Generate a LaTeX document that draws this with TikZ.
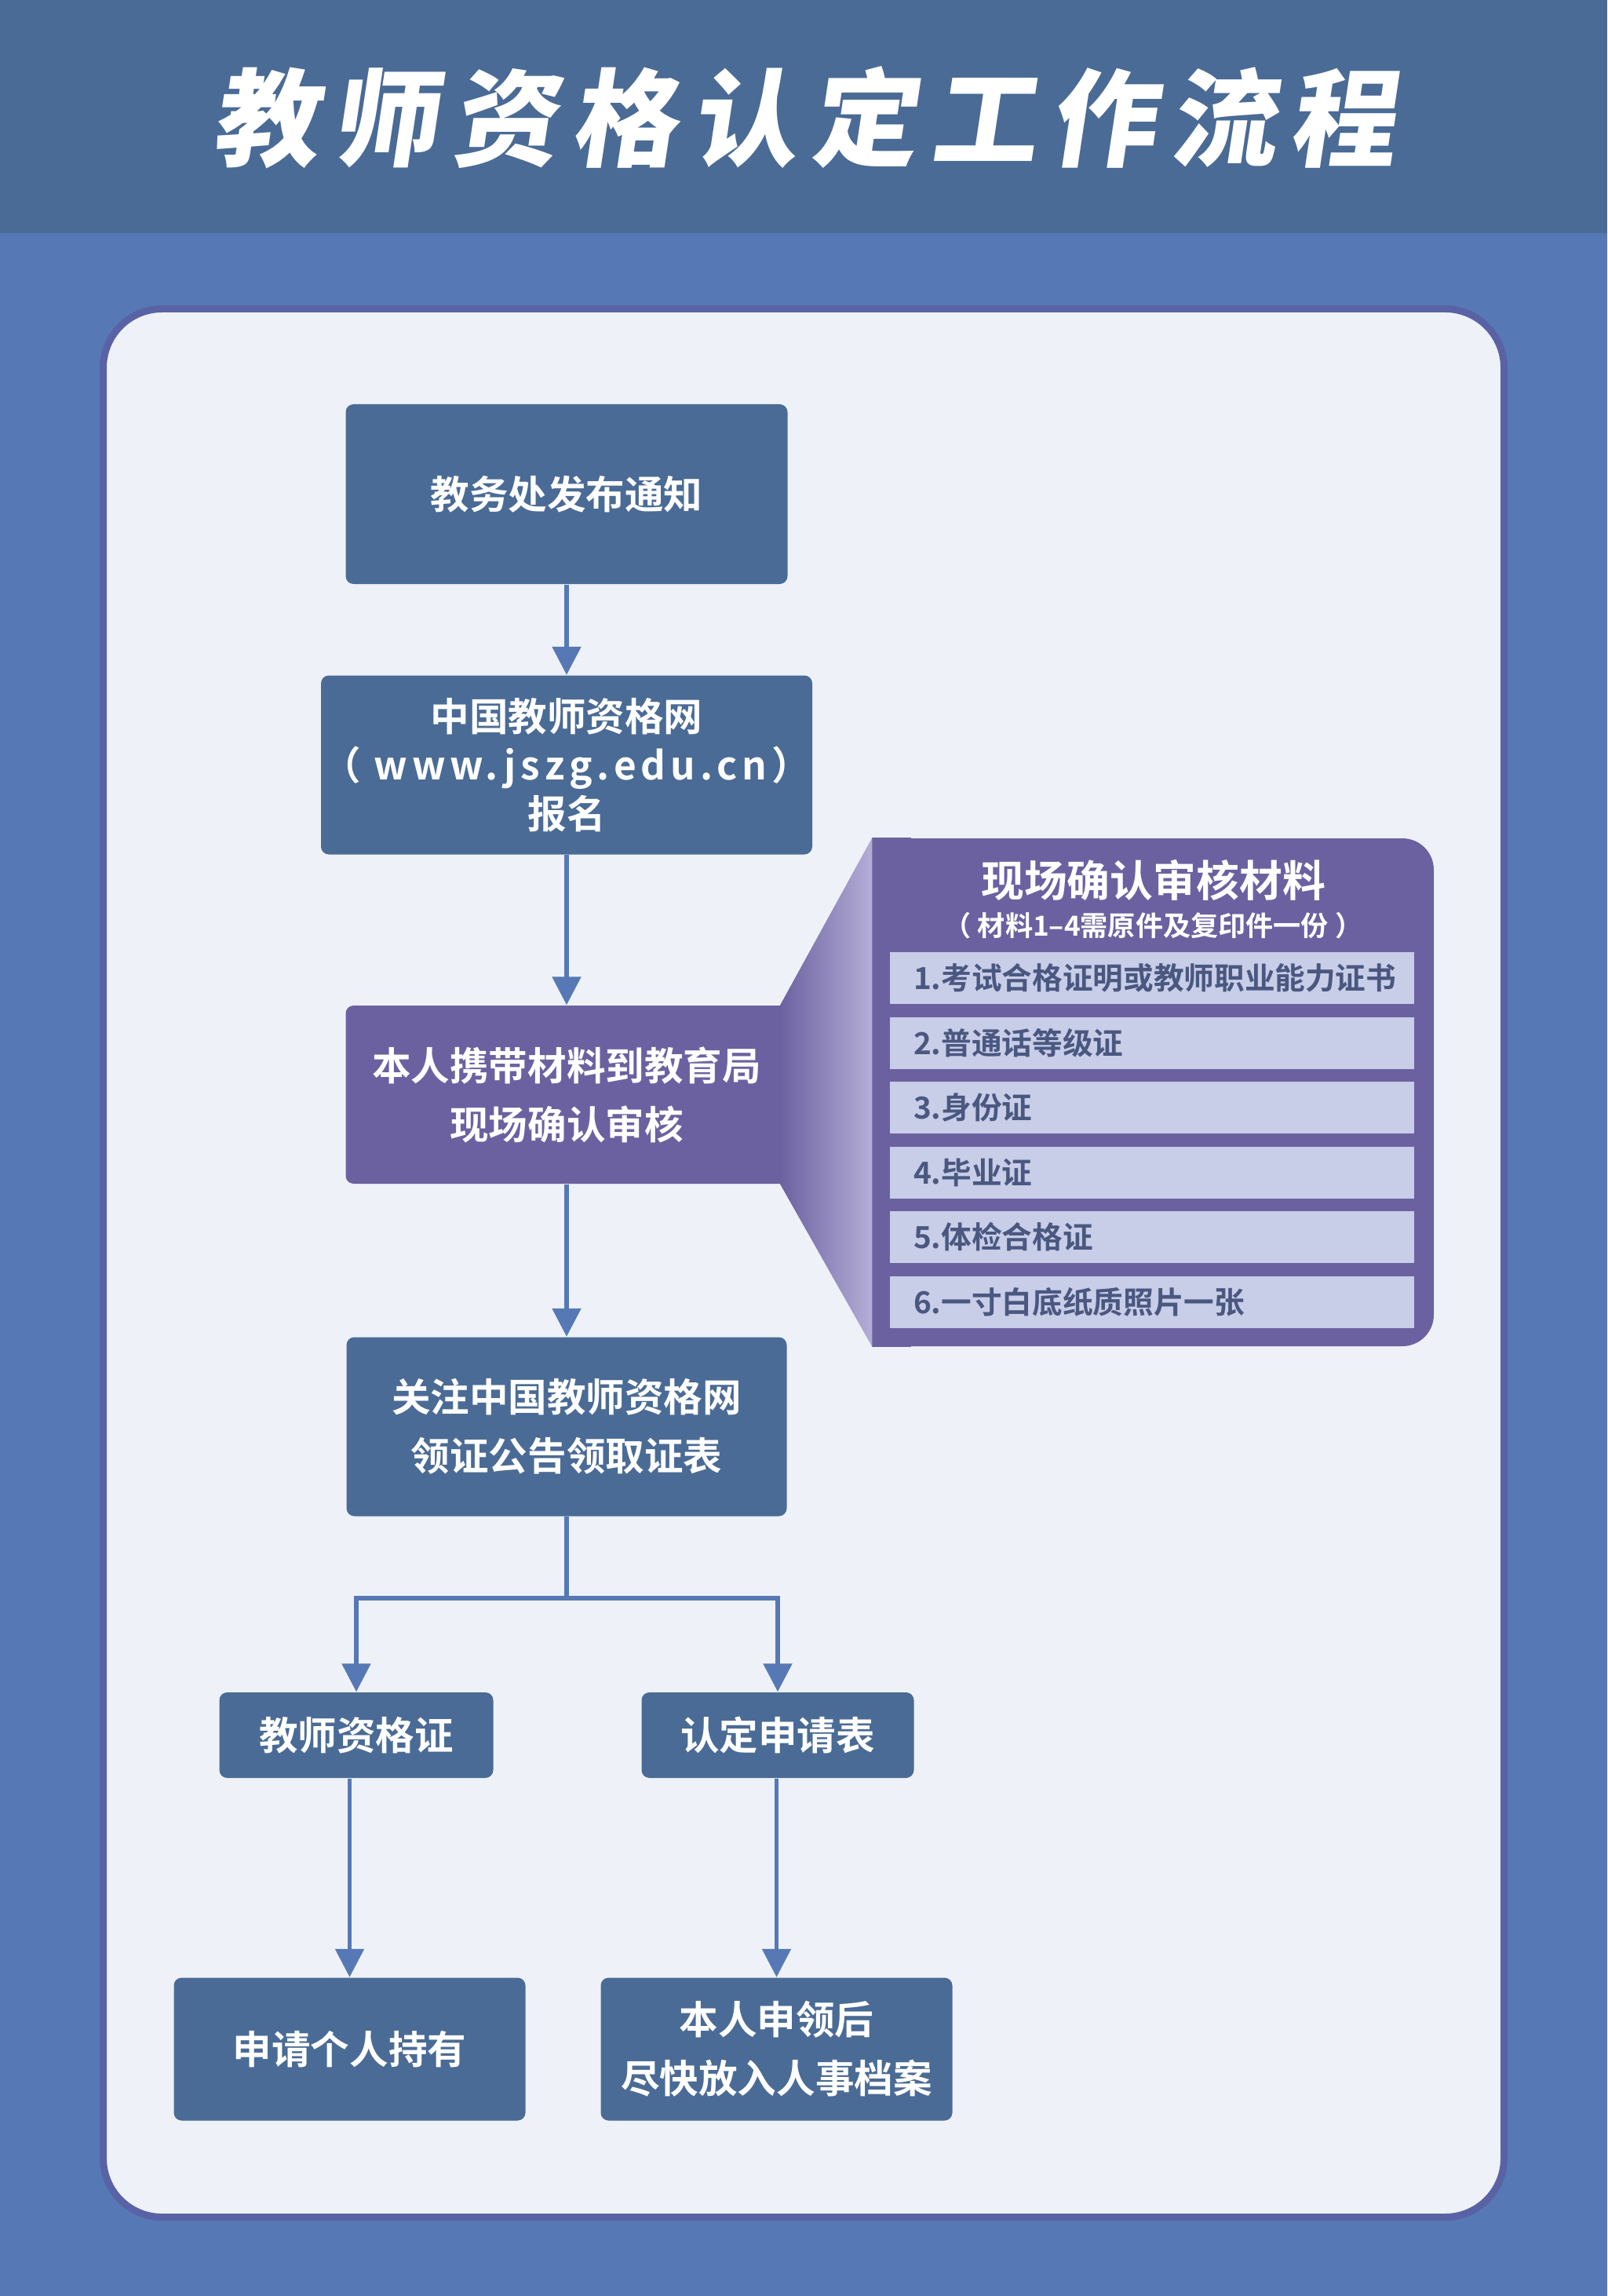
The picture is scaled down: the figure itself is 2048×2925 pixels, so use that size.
\documentclass[tikz,border=0pt]{standalone}
\usepackage{fontspec}
\usepackage{tikz}
\usetikzlibrary{positioning}
\usetikzlibrary{arrows.meta}
\newfontfamily\gruby{Noto Sans CJK SC Bold}
\newfontfamily\tytulowy{Noto Sans CJK SC Black}[FakeSlant=0.15,LetterSpace=13]
\definecolor{tlo}{HTML}{5679B5}
\definecolor{naglowek}{HTML}{4A6B95}
\definecolor{karta}{HTML}{EEF2F8}
\definecolor{ramka}{HTML}{5A62A6}
\definecolor{fiolet}{HTML}{6C61A0}
\definecolor{lawenda}{HTML}{B4AED6}
\definecolor{pozycja}{HTML}{C8CDE8}
\definecolor{ciemny}{HTML}{4A5880}
\tikzstyle{line} = [draw=tlo, line width=0.55mm, -{Triangle[length=3.6mm,width=3.6mm]}]

\begin{document}
\begin{tikzpicture}[x=0.1mm, y=-0.1mm]

\tikzstyle{Blok} = [rectangle, fill=naglowek, text=white, align=center, rounded corners=1mm, inner sep=0pt, font=\gruby\fontsize{14.1pt}{21.3pt}\selectfont]
\tikzstyle{FioletBlok} = [Blok, fill=fiolet]
\tikzstyle{Pozycja} = [rectangle, fill=pozycja, text=ciemny, minimum width=66.8mm, minimum height=6.6mm, text width=60.8mm, inner xsep=3mm, inner ysep=0pt, align=left, font=\gruby\fontsize{11pt}{13pt}\selectfont, node distance=8.25mm]

% tlo, naglowek i karta
\fill[tlo] (0,0) rectangle (2048,2925);
\fill[naglowek] (0,0) rectangle (2048,297);
\node[text=white, font=\tytulowy\fontsize{38.4pt}{40pt}\selectfont] (tytul) at (1024,150) {教师资格认定工作流程};
\draw[ramka, fill=karta, line width=0.9mm, rounded corners=7.5mm] (131.5,393.5) rectangle (1916.5,2824.5);

% Place nodes
\node [Blok, minimum width=56.3mm, minimum height=22.9mm] (etap1) at (722,629.5) {教务处发布通知};
\node [Blok, minimum width=62.6mm, minimum height=22.8mm, below of=etap1, node distance=34.5mm, font=\gruby\fontsize{14.1pt}{17.6pt}\selectfont] (etap2) {中国教师资格网\\（\hspace{1.6mm}{\addfontfeature{LetterSpace=12}www.jszg.edu.cn}\hspace{0.6mm}）\\报名};
\node [FioletBlok, minimum width=56.3mm, minimum height=22.7mm, below of=etap2, node distance=42mm] (etap3) {本人携带材料到教育局\\现场确认审核};
\node [Blok, minimum width=56.1mm, minimum height=22.8mm, below of=etap3, node distance=42.3mm] (etap4) {关注中国教师资格网\\领证公告领取证表};
\node [Blok, minimum width=34.9mm, minimum height=10.9mm, below of=etap4, node distance=39.3mm, xshift=-26.8mm] (etap5) {教师资格证};
\node [Blok, minimum width=34.7mm, minimum height=10.9mm, below of=etap4, node distance=39.3mm, xshift=26.9mm] (etap6) {认定申请表};
\node [Blok, minimum width=44.8mm, minimum height=18.2mm, below of=etap5, node distance=40mm, xshift=-0.85mm] (etap7) {申请个人持有};
\node [Blok, minimum width=44.8mm, minimum height=18.2mm, below of=etap6, node distance=40mm, xshift=-0.15mm] (etap8) {本人申领后\\尽快放入人事档案};

% panel z materialami
\node [rectangle, fill=fiolet, rounded corners=4mm, minimum width=71.5mm, minimum height=64.7mm] (panel) at (1469.5,1391.5) {};
\fill[fiolet] (panel.north west) rectangle ([xshift=5mm]panel.south west);
\node [text=white, font=\gruby\fontsize{15.6pt}{18pt}\selectfont] (panel_tytul) at (1469.5,1121) {现场确认审核材料};
\node [text=white, font=\gruby\fontsize{10pt}{12pt}\selectfont, below of=panel_tytul, node distance=5.8mm] (panel_uwaga) {（\hspace{0.8mm}材料1–4需原件及复印件一份\hspace{0.8mm}）};
\node [Pozycja] (material1) at (1468,1246) {1.考试合格证明或教师职业能力证书};
\node [Pozycja, below of=material1] (material2) {2.普通话等级证};
\node [Pozycja, below of=material2] (material3) {3.身份证};
\node [Pozycja, below of=material3] (material4) {4.毕业证};
\node [Pozycja, below of=material4] (material5) {5.体检合格证};
\node [Pozycja, below of=material5] (material6) {6.一寸白底纸质照片一张};

\shade [left color=fiolet, right color=lawenda] ([xshift=-1mm]etap3.north east) -- (panel.north west) -- (panel.south west) -- ([xshift=-1mm]etap3.south east) -- cycle;

\path [line] (etap1) -- (etap2);
\path [line] (etap2) -- (etap3);
\path [line] (etap3) -- (etap4);
\path [line] (etap4.south) -- ++(0,-10.4mm) -| (etap5);
\path [line] (etap4.south) -- ++(0,-10.4mm) -| (etap6);
\path [line] (etap5.south -| etap7.north) -- (etap7.north);
\path [line] (etap6.south -| etap8.north) -- (etap8.north);

\end{tikzpicture}
\end{document}
